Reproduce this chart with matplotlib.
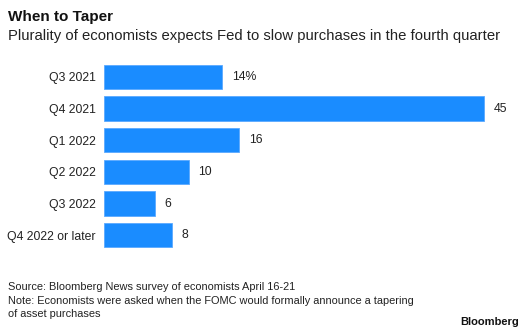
import matplotlib.pyplot as plt

plt.rcParams['font.family'] = ['Liberation Sans', 'DejaVu Sans']

categories = ['Q3 2021', 'Q4 2021', 'Q1 2022', 'Q2 2022', 'Q3 2022', 'Q4 2022 or later']
shares = [14, 45, 16, 10, 6, 8]
value_labels = ['14%', '45', '16', '10', '6', '8']

W, H = 524, 334
fig = plt.figure(figsize=(W / 100, H / 100), dpi=100)


def px(x, y):
    return x / W, 1 - y / H


ax = fig.add_axes([104 / W, 1 - 251 / H, 400 / W, 190 / H])
bars = ax.barh(range(len(categories)), shares, height=0.76,
               color='#1a8cff', edgecolor='#5aa9ff', linewidth=0.6)
ax.set_ylim(len(categories) - 0.5, -0.5)
ax.set_xlim(0, 400 / 8.45)
ax.set_yticks(range(len(categories)))
ax.set_yticklabels(categories, fontsize=8.8, color='#222222')
ax.tick_params(axis='y', length=0, pad=6)
ax.set_xticks([])
for s in ax.spines.values():
    s.set_visible(False)

for bar, lab in zip(bars, value_labels):
    ax.annotate(lab, (bar.get_width(), bar.get_y() + bar.get_height() / 2),
                xytext=(7, 0), textcoords='offset points',
                va='center', ha='left', fontsize=8.8, color='#222222')

fig.text(*px(8, 10), 'When to Taper', fontsize=11, fontweight='bold',
         va='top', ha='left', color='#111111')
fig.text(*px(8, 29), 'Plurality of economists expects Fed to slow purchases in the fourth quarter',
         fontsize=10.7, va='top', ha='left', color='#222222')

fig.text(*px(8, 282), 'Source: Bloomberg News survey of economists April 16-21',
         fontsize=7.9, va='top', ha='left', color='#222222')
fig.text(*px(8, 295.5), 'Note: Economists were asked when the FOMC would formally announce a tapering',
         fontsize=7.9, va='top', ha='left', color='#222222')
fig.text(*px(8, 309), 'of asset purchases',
         fontsize=7.9, va='top', ha='left', color='#222222')
fig.text(*px(519, 317), 'Bloomberg', fontsize=8, fontweight='bold',
         va='top', ha='right', color='#111111')

fig.savefig('out.png', dpi=100)
